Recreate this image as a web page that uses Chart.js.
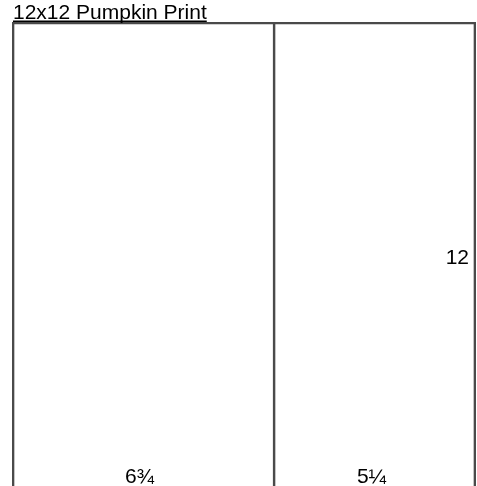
<!DOCTYPE html>
<html>
<head>
<meta charset="utf-8">
<script src="https://cdn.jsdelivr.net/npm/chart.js@4/dist/chart.umd.min.js"></script>
<style>
  html, body { margin: 0; padding: 0; background: #fff; overflow: hidden; }
  #wrap { position: relative; width: 477px; height: 494px; }
</style>
</head>
<body>
<div id="wrap"><canvas id="c"></canvas></div>
<script>
const titleText = '12x12 Pumpkin Print';
const categories = ['print'];
const segmentWidths = [6.75, 5.25];
const segmentLabels = ['6¾', '5¼'];
const totalSize = 12;
const heightLabel = '12';

const lineColor = '#4a4a4a';
const font = '21px "Liberation Sans", Arial, sans-serif';

const labelPlugin = {
  id: 'labels',
  afterDraw(chart) {
    const ctx = chart.ctx;
    const xs = chart.scales.x;
    const area = chart.chartArea;
    ctx.save();
    ctx.fillStyle = '#000';
    ctx.font = font;
    // title
    ctx.textAlign = 'left';
    ctx.textBaseline = 'alphabetic';
    ctx.fillText(titleText, 13, 19);
    const w = ctx.measureText(titleText).width;
    ctx.fillRect(13, 20.5, w, 1.5);
    // width labels
    ctx.textAlign = 'center';
    let start = 0;
    segmentWidths.forEach((v, i) => {
      const cx = (xs.getPixelForValue(start) + xs.getPixelForValue(start + v)) / 2;
      ctx.fillText(segmentLabels[i], cx - 3, 483);
      start += v;
    });
    // height label
    ctx.textAlign = 'right';
    ctx.textBaseline = 'middle';
    const ys = chart.scales.y;
    ctx.fillText(heightLabel, xs.getPixelForValue(totalSize) - 7, ys.getPixelForValue(0));
    ctx.restore();
  }
};

new Chart(document.getElementById('c'), {
  type: 'bar',
  data: {
    labels: categories,
    datasets: segmentWidths.map((v, i) => ({
      label: segmentLabels[i],
      data: [v],
      backgroundColor: 'rgba(255,255,255,0)',
      borderColor: lineColor,
      borderSkipped: false,
      borderWidth: i === 0
        ? { left: 2, top: 2, right: 0, bottom: 0 }
        : { left: 2, top: 2, right: 2, bottom: 0 },
      barPercentage: 1,
      categoryPercentage: 1
    }))
  },
  options: {
    indexAxis: 'y',
    responsive: true,
    maintainAspectRatio: false,
    animation: false,
    layout: { padding: { left: 12, right: 1, top: 22, bottom: 0 } },
    plugins: { legend: { display: false }, tooltip: { enabled: false }, title: { display: false } },
    scales: {
      x: { stacked: true, min: 0, max: totalSize, display: false },
      y: { stacked: true, display: false }
    }
  },
  plugins: [labelPlugin]
});
</script>
</body>
</html>
